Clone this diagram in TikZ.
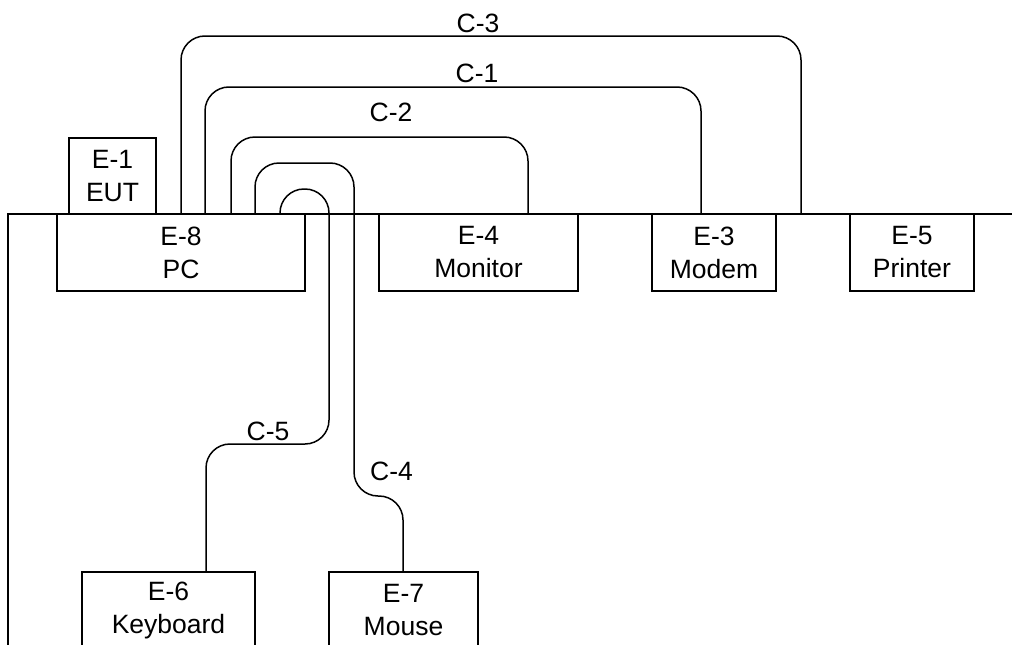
\documentclass[tikz,border=0pt]{standalone}
\usepackage{fontspec}
\setmainfont{Liberation Sans}
\begin{document}
\begin{tikzpicture}[x=1pt,y=-1pt,line width=1.5pt,
  box/.style={draw,rectangle,inner sep=0pt,align=center,
    font=\fontsize{26.5}{33}\selectfont},
  lbl/.style={inner sep=0pt,font=\fontsize{26.5}{33}\selectfont},
  cable/.style={rounded corners=24pt},
  wire/.style={line cap=rect}]
\useasboundingbox (0,0) rectangle (1012,645);
% table / wall
\coordinate (tl) at (8,214);
\coordinate (tr) at (1014,214);
\coordinate (bl) at (8,647);
\draw[wire] (tr) -- (tl) -- (bl);
% equipment
\node[box,minimum width=87pt,minimum height=76pt] (eut) at (112.5,176) {E-1\\EUT};
\node[box,minimum width=248pt,minimum height=77pt] (pc) at (181,252.5) {E-8\\PC};
\node[box,minimum width=199pt,minimum height=77pt] (monitor) at (478.5,252.5) {E-4\\Monitor};
\node[box,minimum width=124pt,minimum height=77pt] (modem) at (714,252.5) {E-3\\Modem};
\node[box,minimum width=124pt,minimum height=77pt] (printer) at (912,252.5) {E-5\\Printer};
\node[box,minimum width=173pt,minimum height=76pt] (keyboard) at (168.5,610) {E-6\\Keyboard};
\node[box,minimum width=149pt,minimum height=76pt] (mouse) at (403.5,610) {E-7\\Mouse};
% cable end points
\coordinate (c3a) at (181,214);
\coordinate (c3b) at (801,214);
\coordinate (c1a) at (205,214);
\coordinate (c1b) at (701,214);
\coordinate (c2a) at (231,214);
\coordinate (c2b) at (528,214);
\coordinate (c4a) at (255,214);
\coordinate (c5a) at (280,214);
% cables
\draw[cable] (c3a) -- (181,36) -- (801,36) -- (c3b);
\draw[cable] (c1a) -- (205,87) -- (701,87) -- (c1b);
\draw[cable] (c2a) -- (231,137) -- (528,137) -- (c2b);
\draw[cable] (c4a) -- (255,163) -- (354,163) -- (354,496) -- (403,496) -- (mouse.north -| 403,0);
\draw[cable] (c5a) -- (280,189) -- (329,189) -- (329,444) -- (206,444) -- (keyboard.north -| 206,0);
% labels
\node[lbl] (l3) at (478,23) {C-3};
\node[lbl] (l1) at (477,73) {C-1};
\node[lbl] (l2) at (391,112) {C-2};
\node[lbl] (l5) at (268,431) {C-5};
\node[lbl] (l4) at (391.5,471) {C-4};
\end{tikzpicture}
\end{document}
